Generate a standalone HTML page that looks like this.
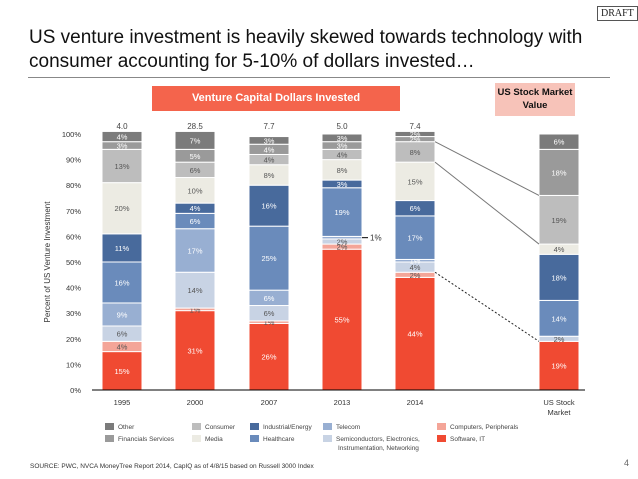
<!DOCTYPE html>
<html><head><meta charset="utf-8">
<style>
body{margin:0;width:638px;height:479px;background:#fff;font-family:"Liberation Sans",sans-serif;position:relative;overflow:hidden}
.t{position:absolute}
</style></head><body>
<div class="t" style="left:597px;top:6px;border:1px solid #555;font-family:'Liberation Serif',serif;font-size:10px;padding:1px 3px;color:#222">DRAFT</div>
<div class="t" style="left:29px;top:26px;font-size:19px;line-height:24px;color:#111">US venture investment is heavily skewed towards technology with<br>consumer accounting for 5-10% of dollars invested…</div>
<div class="t" style="left:28px;top:77px;width:582px;height:1px;background:#888"></div>
<div class="t" style="left:152px;top:86px;width:248px;height:25px;background:#f4644c;color:#fff;font-size:11px;font-weight:bold;line-height:25px;text-align:center">Venture Capital Dollars Invested</div>
<div class="t" style="left:495px;top:83px;width:80px;height:33px;background:#f7c3b9;color:#111;font-size:9.5px;font-weight:bold;line-height:13px;text-align:center;padding-top:3px;box-sizing:border-box;white-space:nowrap">US Stock Market<br>Value</div>
<svg class="t" style="left:0;top:0" width="638" height="479">
<g id="g"></g>
</svg>
<div class="t" style="left:30px;top:463px;font-size:6.5px;color:#333">SOURCE: PWC, NVCA MoneyTree Report 2014, CapIQ as of 4/8/15 based on Russell 3000 Index</div>
<div class="t" style="left:624px;top:458px;font-size:9px;color:#666">4</div>
<script>
const categories=["1995","2000","2007","2013","2014","US Stock|Market"];
const totals=["4.0","28.5","7.7","5.0","7.4",""];
const seriesNames=["Software, IT","Computers, Peripherals","Semiconductors, Electronics,|Instrumentation, Networking","Telecom","Healthcare","Industrial/Energy","Media","Consumer","Financials Services","Other"];
const software=[15,31,26,55,44,19];
const computers=[4,1,1,2,2,0];
const semis=[6,14,6,2,4,2];
const telecom=[9,17,6,1,1,0];
const healthcare=[16,6,25,19,17,14];
const industrial=[11,4,16,3,6,18];
const media=[20,10,8,8,15,4];
const consumer=[13,6,4,4,8,19];
const financials=[3,5,4,3,2,18];
const other=[4,7,3,3,2,6];
const yTicks=[0,10,20,30,40,50,60,70,80,90,100];
const series=[software,computers,semis,telecom,healthcare,industrial,media,consumer,financials,other];
const colors=["#f04a32","#f4a598","#c8d3e4","#98afd2","#6a8bbb","#486a9c","#ecebe3","#bdbdbd","#9a9a9a","#7b7b7b"];
const textCol=["#fff","#555","#555","#fff","#fff","#fff","#555","#555","#fff","#fff"];
const NS="http://www.w3.org/2000/svg";
const g=document.getElementById('g');
const y0=390,y1=134;
const y=v=>y0-(v/100)*(y0-y1);
const xc=[122,195,269,342,415,559];
const bw=40;
function mk(tag,at){const e=document.createElementNS(NS,tag);for(const k in at)e.setAttribute(k,at[k]);g.appendChild(e);return e;}
yTicks.forEach(t=>{const e=mk('text',{x:81,y:y(t)+3,'text-anchor':'end','font-size':7.5,fill:'#333'});e.textContent=t+'%';

});
const yt=mk('text',{x:0,y:0,transform:'translate(50,262) rotate(-90)','text-anchor':'middle','font-size':8,fill:'#333'});yt.textContent='Percent of US Venture Investment';


const tops=[];
categories.forEach((c,i)=>{
  let cum=0;tops[i]=[];
  series.forEach((s,k)=>{
    const v=s[i];const b=cum;cum+=v;tops[i][k]=[b,cum];
    if(v<=0)return;
    const r=mk('rect',{x:xc[i]-bw/2,y:y(cum),width:bw,height:y(b)-y(cum),fill:colors[k],stroke:'#fff','stroke-width':1});
    
    
    if(i==3&&k==3){mk('line',{x1:xc[i]+bw/2,y1:y((b+cum)/2),x2:xc[i]+bw/2+6,y2:y((b+cum)/2),stroke:'#000','stroke-width':1});
      const l=mk('text',{x:xc[i]+bw/2+8,y:y((b+cum)/2)+3,'font-size':8,fill:'#333'});l.textContent=v+'%';
      return;}
    const l=mk('text',{x:xc[i],y:y((b+cum)/2)+3,'text-anchor':'middle','font-size':7.5,fill:textCol[k]});l.textContent=v+'%';
    
    
  });
  const tl=mk('text',{x:xc[i],y:129,'text-anchor':'middle','font-size':8,fill:'#444'});tl.textContent=totals[i];
  
  
  c.split('|').forEach((p,j)=>{const e=mk('text',{x:xc[i],y:405+j*10,'text-anchor':'middle','font-size':7.5,fill:'#333'});e.textContent=p;
  
  });
});
mk('line',{x1:92,y1:y0,x2:585,y2:y0,stroke:'#000','stroke-width':1});
const a=4,u=5;
mk('line',{x1:xc[a]+bw/2,y1:y(tops[a][8][0]),x2:xc[u]-bw/2,y2:y(tops[u][8][0]),stroke:'#777','stroke-width':1});
mk('line',{x1:xc[a]+bw/2,y1:y(tops[a][7][0]),x2:xc[u]-bw/2,y2:y(tops[u][7][0]),stroke:'#777','stroke-width':1});
mk('line',{x1:xc[a]+bw/2,y1:y(tops[a][2][0]),x2:xc[u]-bw/2,y2:y(tops[u][1][1]),stroke:'#222','stroke-width':1,'stroke-dasharray':'2,2'});
const leg=[[9,105,429],[8,105,441],[7,192,429],[6,192,441],[5,250,429],[4,250,441],[3,323,429],[2,323,441],[1,437,429],[0,437,441]];
const names={9:"Other",8:"Financials Services",7:"Consumer",6:"Media",5:"Industrial/Energy",4:"Healthcare",3:"Telecom",2:seriesNames[2],1:seriesNames[1],0:seriesNames[0]};
leg.forEach(([k,x,yy])=>{
  const r=mk('rect',{x:x,y:yy-6,width:9,height:7,fill:colors[k]});
  
  names[k].split('|').forEach((p,j)=>{const e=mk('text',{x:x+13+(j?2:0),y:yy+j*9,'font-size':6.5,fill:'#444'});e.textContent=p;
  });
});
</script>
</body></html>
